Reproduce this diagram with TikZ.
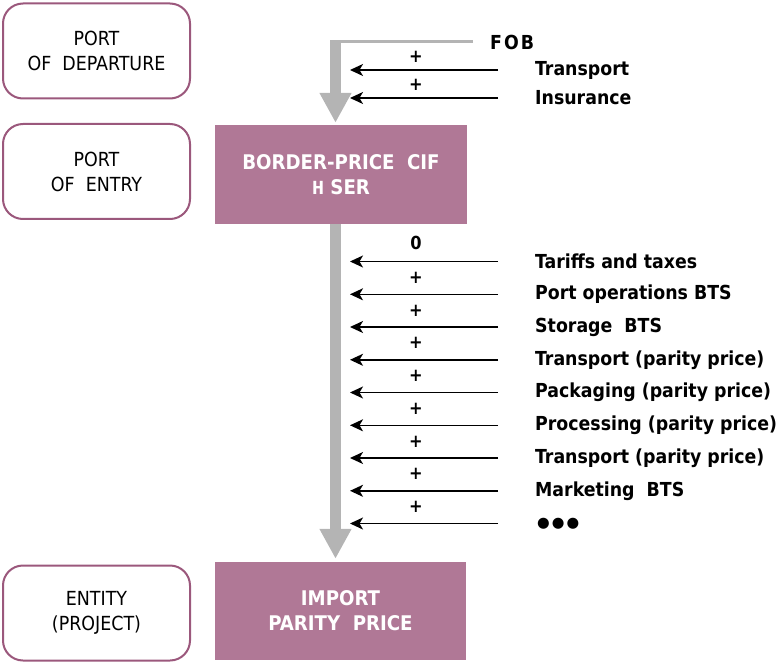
\documentclass[tikz,border=0pt]{standalone}
\usepackage{fontspec}
\setmainfont{DejaVu Sans Condensed}
\newfontfamily\hfont{Liberation Mono}
\newfontfamily\dotfont{DejaVu Sans}
\usetikzlibrary{arrows.meta}
\definecolor{boxfill}{HTML}{B07896}
\definecolor{boxline}{HTML}{9B587C}
\definecolor{bargrey}{HTML}{B4B4B4}
\begin{document}
\begin{tikzpicture}[x=1pt,y=-1pt,
  sidebox/.style={draw=boxline, line width=2pt, rounded corners=20pt,
    minimum width=187pt, minimum height=95pt, align=center, inner sep=0pt,
    font=\fontsize{19.4}{25}\selectfont},
  mainbox/.style={fill=boxfill, minimum width=252pt, minimum height=99pt,
    align=center, text=white, inner sep=0pt, font=\bfseries\fontsize{20.2}{25}\selectfont},
  cost/.style={anchor=west, inner sep=0pt, font=\bfseries\fontsize{19.3}{22}\selectfont},
  sign/.style={inner sep=0pt, font=\bfseries\fontsize{18}{20}\selectfont},
  feed/.style={-{Stealth[length=13pt,width=12pt,inset=3.5pt]}, line width=1.5pt},
  flow/.style={draw=bargrey, line width=11pt, -{Triangle[length=30pt,width=30pt]}},
  fobline/.style={draw=bargrey, line width=3pt}
]
\useasboundingbox (0,0) rectangle (779,663);

% side boxes
\node[sidebox] (dep) at (96.5,51) {PORT\\OF\ \ DEPARTURE};
\node[sidebox] (entry) at (96.5,171.5) {PORT\\OF\ \ ENTRY};
\node[sidebox] (entity) at (96.5,613) {ENTITY\\(PROJECT)};

% main boxes
\node[mainbox] (cif) at (341,174.5) {BORDER-PRICE\ \ CIF\\{\hfont\bfseries\fontsize{20}{20}\selectfont H}\ SER};
\node[mainbox, minimum width=251pt, minimum height=98pt] (ipp) at (340.5,611) {IMPORT\\PARITY\ \ PRICE};

% FOB and grey flow
\node[cost] (fob) at (490,42) {F\kern2pt O\kern2pt B};
\coordinate (fobend) at (473,42);
\coordinate (corner) at (330,42);
\coordinate (bartop) at (335.5,40.5);
\draw[fobline] (fobend) -- (corner);
\draw[flow, shorten >=2pt] (bartop) -- (bartop |- cif.north);
\draw[flow, shorten >=3pt] (bartop |- cif.south) -- (bartop |- ipp.north);

% upper feeds
\foreach \name/\yy/\txt in {tr/70/Transport, ins/98/Insurance}{
  \node[cost] (\name) at (535,\yy) {\txt};
  \coordinate (\name s) at (498,\yy);
  \coordinate (\name e) at (350,\yy);
  \draw[feed] (\name s) -- (\name e);
}
\node[sign] (p1) at (416,57) {+};
\node[sign] (p2) at (416,85) {+};

% lower feeds
\foreach \name/\yy/\txt in {
  c1/261.5/Tariffs and taxes,
  c2/294.3/Port operations BTS,
  c3/327/Storage\ \ BTS,
  c4/359.8/Transport (parity price),
  c5/392.5/Packaging (parity price),
  c6/425.3/Processing (parity price),
  c7/458/Transport (parity price),
  c8/490.8/Marketing\ \ BTS}{
  \node[cost] (\name) at (535,\yy) {\txt};
  \coordinate (\name s) at (498,\yy);
  \coordinate (\name e) at (350,\yy);
  \draw[feed] (\name s) -- (\name e);
}
\node[cost, font=\dotfont\fontsize{14.5}{14}\selectfont] (c9) at (537,523.5) {●\kern2pt●\kern2pt●};
\coordinate (c9s) at (498,523.5);
\coordinate (c9e) at (350,523.5);
\draw[feed] (c9s) -- (c9e);

\node[sign] (z0) at (416,243) {0};
\foreach \yy [count=\i] in {278,310.5,343.3,376,409,441.5,474.3,507}{
  \node[sign] (s\i) at (416,\yy) {+};
}
\end{tikzpicture}
\end{document}
